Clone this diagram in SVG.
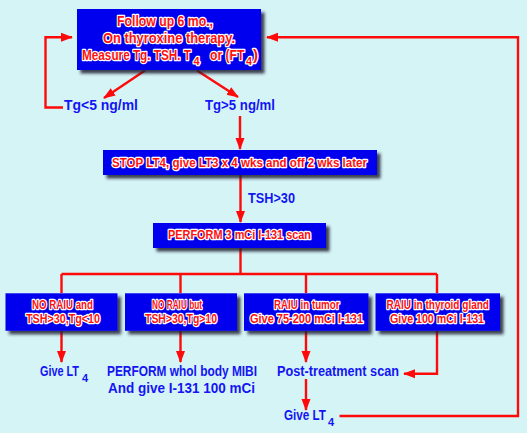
<svg xmlns="http://www.w3.org/2000/svg" width="527" height="433" viewBox="0 0 527 433">
<defs>
<style>
.bx{fill:#0505ee;filter:url(#sh)}
.bt{font-family:"Liberation Sans",Arial,sans-serif;font-weight:bold;fill:#ff1010;stroke:#ffffff;stroke-width:2.6;stroke-linejoin:round;paint-order:stroke}
.b1{font-size:15px}
.b2{font-size:12px}
.lb{font-family:"Liberation Sans",Arial,sans-serif;font-weight:bold;font-size:14px;fill:#1414f5}
.sub{font-size:11px}
.ln{fill:none;stroke:#ff0a0a;stroke-width:2.4}
.ar{marker-end:url(#ah)}
</style>
<filter id="sh" x="-10%" y="-20%" width="130%" height="160%">
<feDropShadow dx="3.5" dy="3.5" stdDeviation="1.4" flood-color="#1a1a30" flood-opacity="0.85"/>
</filter>
<marker id="ah" markerUnits="userSpaceOnUse" markerWidth="13" markerHeight="10" refX="11" refY="5" orient="auto">
<path d="M0,0.5 L12,5 L0,9.5 z" fill="#ff0a0a"/>
</marker>
</defs>
<rect x="0" y="0" width="527" height="433" fill="#d5f4f6"/>

<g id="connectors">
<path class="ln ar" d="M145,70.5 L104,98"/>
<path class="ln ar" d="M197,70.5 L238,97"/>
<path class="ln ar" d="M63,107.5 H45.5 V37.3 H72"/>
<path class="ln ar" d="M339.5,416 H518 V37.3 H267"/>
<path class="ln ar" d="M240,116 V149"/>
<path class="ln ar" d="M240.5,175 V222"/>
<path class="ln" d="M240.5,248 V274 M61.5,274 H437 M61.5,274 V293 M180.5,274 V293 M306,274 V293 M437,274 V293"/>
<path class="ln ar" d="M61.5,331 V362"/>
<path class="ln ar" d="M180.5,331 V362"/>
<path class="ln ar" d="M306,331 V362"/>
<path class="ln ar" d="M437,331 V373.7 H404"/>
<path class="ln ar" d="M306,379 V410"/>
</g>

<g id="n-followup">
<rect class="bx" x="77" y="9" width="184" height="61"/>
<text class="bt b1" x="117" y="26" textLength="96" lengthAdjust="spacingAndGlyphs">Follow up 6 mo.,</text>
<text class="bt b1" x="103" y="43" textLength="132" lengthAdjust="spacingAndGlyphs">On thyroxine therapy.</text>
<text class="bt b1" y="60"><tspan x="82" textLength="109" lengthAdjust="spacingAndGlyphs">Measure Tg. TSH. T</tspan><tspan class="sub" x="193.5" dy="4.5">4</tspan><tspan x="210" dy="-4.5" textLength="34.5" lengthAdjust="spacingAndGlyphs">or (FT</tspan><tspan class="sub" x="246" dy="4.5">4</tspan><tspan x="253" dy="-4.5">)</tspan></text>
</g>

<g id="n-tglow">
<text class="lb" x="64" y="110" textLength="74" lengthAdjust="spacingAndGlyphs">Tg&lt;5 ng/ml</text>
</g>
<g id="n-tghigh">
<text class="lb" x="205" y="110" textLength="70" lengthAdjust="spacingAndGlyphs">Tg&gt;5 ng/ml</text>
</g>

<g id="n-stop">
<rect class="bx" x="103" y="150" width="274" height="25"/>
<text class="bt b2" x="112" y="167" textLength="255" lengthAdjust="spacingAndGlyphs">STOP LT4, give LT3 x 4 wks and off 2 wks later</text>
</g>

<g id="n-tsh">
<text class="lb" x="248" y="203" textLength="47" lengthAdjust="spacingAndGlyphs">TSH&gt;30</text>
</g>

<g id="n-scan">
<rect class="bx" x="153" y="223" width="173" height="25"/>
<text class="bt b2" x="168" y="239" textLength="143" lengthAdjust="spacingAndGlyphs">PERFORM 3 mCi I-131 scan</text>
</g>

<g id="n-a">
<rect class="bx" x="5.5" y="293.3" width="112" height="37.5"/>
<text class="bt b2" x="32" y="309" textLength="61" lengthAdjust="spacingAndGlyphs">NO RAIU and</text>
<text class="bt b2" x="26" y="323" textLength="74" lengthAdjust="spacingAndGlyphs">TSH&gt;30,Tg&lt;10</text>
</g>
<g id="n-b">
<rect class="bx" x="125" y="293.3" width="112" height="37.5"/>
<text class="bt b2" x="152" y="309" textLength="50" lengthAdjust="spacingAndGlyphs">NO RAIU but</text>
<text class="bt b2" x="145" y="323" textLength="72" lengthAdjust="spacingAndGlyphs">TSH&gt;30,Tg&gt;10</text>
</g>
<g id="n-c">
<rect class="bx" x="244" y="293.3" width="124.5" height="37.5"/>
<text class="bt b2" x="274" y="309" textLength="65.5" lengthAdjust="spacingAndGlyphs">RAIU in tumor</text>
<text class="bt b2" x="250" y="323" textLength="113" lengthAdjust="spacingAndGlyphs">Give 75-200 mCi I-131</text>
</g>
<g id="n-d">
<rect class="bx" x="375.5" y="293.3" width="124.5" height="37.5"/>
<text class="bt b2" x="386.5" y="309" textLength="102.5" lengthAdjust="spacingAndGlyphs">RAIU in thyroid gland</text>
<text class="bt b2" x="390" y="323" textLength="94" lengthAdjust="spacingAndGlyphs">Give 100 mCi I-131</text>
</g>

<g id="n-givelt4a">
<text class="lb" y="376"><tspan x="40" textLength="39" lengthAdjust="spacingAndGlyphs">Give LT</tspan><tspan class="sub" x="82" dy="5.5">4</tspan></text>
</g>
<g id="n-mibi">
<text class="lb" x="107" y="376" textLength="150" lengthAdjust="spacingAndGlyphs">PERFORM whol body MIBI</text>
<text class="lb" x="108" y="393" textLength="147" lengthAdjust="spacingAndGlyphs">And give I-131 100 mCi</text>
</g>
<g id="n-post">
<text class="lb" x="277" y="376" textLength="122" lengthAdjust="spacingAndGlyphs">Post-treatment scan</text>
</g>
<g id="n-givelt4b">
<text class="lb" y="420"><tspan x="284" textLength="42" lengthAdjust="spacingAndGlyphs">Give LT</tspan><tspan class="sub" x="328" dy="5.5">4</tspan></text>
</g>
</svg>
